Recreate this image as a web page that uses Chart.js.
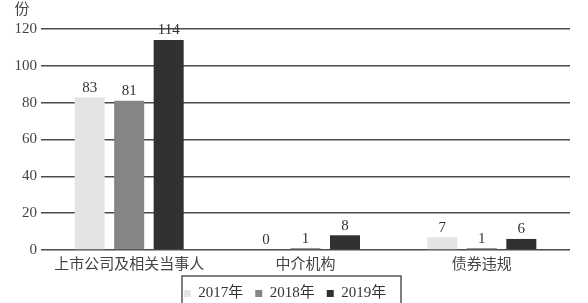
<!DOCTYPE html>
<html>
<head>
<meta charset="utf-8">
<script src="https://cdn.jsdelivr.net/npm/chart.js@4/dist/chart.umd.min.js"></script>
<style>
  html, body { margin: 0; padding: 0; background: #fff; }
  #wrap { width: 588px; height: 303px; }
</style>
</head>
<body>
<div id="wrap"><canvas id="chart"></canvas></div>
<script>
var categories = ['上市公司及相关当事人', '中介机构', '债券违规'];
var years = ['2017年', '2018年', '2019年'];
var values2017 = [83, 0, 7];
var values2018 = [81, 1, 1];
var values2019 = [114, 8, 6];
var yTicks = [0, 20, 40, 60, 80, 100, 120];
var colors = ['#e4e4e4', '#858585', '#313131'];

var fontFamily = '"Liberation Serif", "Noto Sans CJK SC", serif';

// value labels above each bar
var barLabels = {
    id: 'barLabels',
    afterDatasetsDraw: function(chart) {
        var ctx = chart.ctx;
        ctx.save();
        ctx.font = '15px ' + fontFamily;
        ctx.fillStyle = '#333';
        ctx.textAlign = 'center';
        ctx.textBaseline = 'bottom';
        chart.data.datasets.forEach(function(ds, i) {
            chart.getDatasetMeta(i).data.forEach(function(bar, j) {
                ctx.fillText(String(ds.data[j]), bar.x, bar.y - 2);
            });
        });
        ctx.restore();
    }
};

// unit above the y axis and frame round the legend
var extras = {
    id: 'extras',
    afterDraw: function(chart) {
        var ctx = chart.ctx;
        ctx.save();
        ctx.font = '15px ' + fontFamily;
        ctx.fillStyle = '#444';
        ctx.textAlign = 'center';
        ctx.textBaseline = 'middle';
        ctx.fillText('份', 22, 10);
        ctx.strokeStyle = '#555';
        ctx.lineWidth = 1.5;
        ctx.strokeRect(182, 276, 219, 40);
        ctx.restore();
    }
};

var ctx = document.getElementById('chart').getContext('2d');
var chart = new Chart(ctx, {
    type: 'bar',
    data: {
        labels: categories,
        datasets: [
            { label: years[0], data: values2017, backgroundColor: colors[0] },
            { label: years[1], data: values2018, backgroundColor: colors[1] },
            { label: years[2], data: values2019, backgroundColor: colors[2] }
        ]
    },
    options: {
        responsive: true,
        maintainAspectRatio: false,
        animation: false,
        devicePixelRatio: 1,
        categoryPercentage: 0.672,
        barPercentage: 0.76,
        layout: { padding: { top: 29, right: 18, left: 0, bottom: -8 } },
        plugins: {
            tooltip: { enabled: false },
            legend: {
                position: 'bottom',
                labels: {
                    boxWidth: 7,
                    boxHeight: 7,
                    padding: 12,
                    color: '#333',
                    font: { size: 15, family: fontFamily }
                }
            }
        },
        scales: {
            x: {
                grid: { display: false, drawTicks: false },
                border: { display: false },
                ticks: {
                    color: '#444',
                    padding: 6,
                    font: { size: 15, family: fontFamily }
                },
                afterFit: function(scale) { scale.height = 24; }
            },
            y: {
                min: 0,
                max: 120,
                afterBuildTicks: function(scale) {
                    scale.ticks = yTicks.map(function(v) { return { value: v }; });
                },
                grid: { color: '#4a4a4a', lineWidth: 1.5, drawTicks: false },
                border: { display: false },
                ticks: {
                    color: '#444',
                    padding: 4,
                    font: { size: 15, family: fontFamily }
                },
                afterFit: function(scale) { scale.width = 41; }
            }
        }
    },
    plugins: [barLabels, extras]
});
</script>
</body>
</html>
